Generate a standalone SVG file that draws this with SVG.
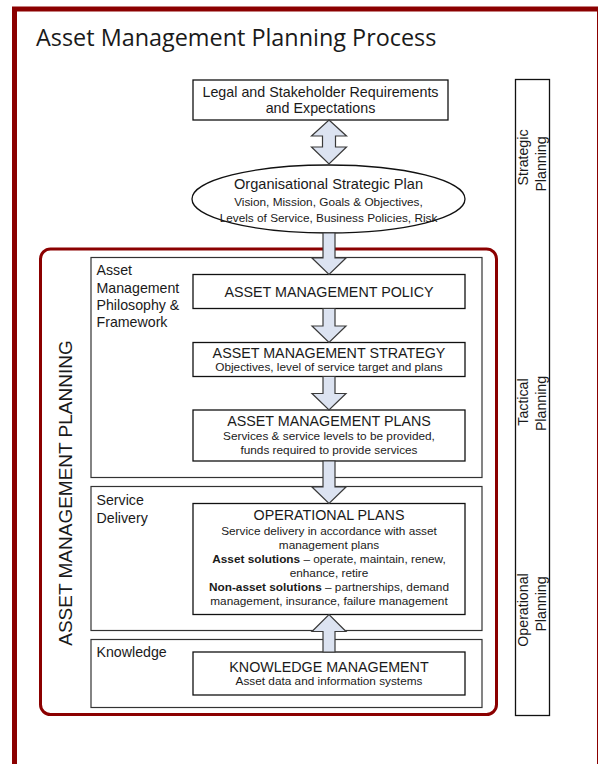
<svg xmlns="http://www.w3.org/2000/svg" width="598" height="764" viewBox="0 0 598 764">
<style>
.t{font-family:"Liberation Sans",Arial,sans-serif;fill:#1a1a1a}
.big{font-size:14.3px}
.sm{font-size:11.8px}
.lbl{font-size:14.2px}
.box{fill:#fff;stroke:#111;stroke-width:1.3}
.sec{fill:#fff;stroke:#333;stroke-width:1.2}
.arr{fill:#dce3f1;stroke:#3a3a3a;stroke-width:1.2;stroke-linejoin:miter}
.mid{text-anchor:middle}
</style>
<rect x="0" y="0" width="598" height="764" fill="#fff"/>
<rect x="14.5" y="9" width="585" height="800" fill="none" stroke="#8b0000" stroke-width="5"/>
<text x="36" y="46" font-family="'Open Sans',sans-serif" font-size="23.4" fill="#1a1a1a">Asset Management Planning Process</text>

<g id="amp-frame">
<rect x="40.5" y="249" width="456" height="465.5" rx="10" fill="none" stroke="#8b0000" stroke-width="3"/>
<text class="t" font-size="19" text-anchor="middle" transform="translate(72,493) rotate(-90)">ASSET MANAGEMENT PLANNING</text>
</g>

<g id="section-philosophy">
<rect class="sec" x="91" y="257.5" width="391" height="220"/>
<text class="t lbl" x="96.5" y="275">Asset</text>
<text class="t lbl" x="96.5" y="292.5">Management</text>
<text class="t lbl" x="96.5" y="310">Philosophy &amp;</text>
<text class="t lbl" x="96.5" y="327">Framework</text>
</g>
<g id="section-service">
<rect class="sec" x="91" y="486.5" width="391" height="144"/>
<text class="t lbl" x="96.5" y="505">Service</text>
<text class="t lbl" x="96.5" y="522.5">Delivery</text>
</g>
<g id="section-knowledge">
<rect class="sec" x="91" y="639.5" width="391" height="68"/>
<text class="t lbl" x="96.5" y="657">Knowledge</text>
</g>

<g id="planning-levels">
<rect x="515.5" y="79.5" width="34" height="636" fill="#fff" stroke="#111" stroke-width="1.3"/>
<text class="t lbl mid" transform="translate(528,157.5) rotate(-90)">Strategic</text>
<text class="t lbl mid" transform="translate(546,164) rotate(-90)">Planning</text>
<text class="t lbl mid" transform="translate(528,402) rotate(-90)">Tactical</text>
<text class="t lbl mid" transform="translate(546,403.5) rotate(-90)">Planning</text>
<text class="t lbl mid" transform="translate(528,610) rotate(-90)">Operational</text>
<text class="t lbl mid" transform="translate(546,604) rotate(-90)">Planning</text>
</g>

<g id="legal">
<rect class="box" x="193" y="80" width="255" height="40"/>
<text class="t big mid" x="320.5" y="97">Legal and Stakeholder Requirements</text>
<text class="t big mid" x="320.5" y="113">and Expectations</text>
</g>

<g id="strategic-plan">
<ellipse cx="328.5" cy="199" rx="136.5" ry="34" fill="#fff" stroke="#111" stroke-width="1.3"/>
<text class="t mid" font-size="14.6" x="328.5" y="189">Organisational Strategic Plan</text>
<text class="t sm mid" x="328.5" y="206">Vision, Mission, Goals &amp; Objectives,</text>
<text class="t sm mid" x="328.5" y="222">Levels of Service, Business Policies, Risk</text>
</g>

<g id="policy">
<rect class="box" x="193" y="274.5" width="272" height="34"/>
<text class="t big mid" x="329" y="296.5">ASSET MANAGEMENT POLICY</text>
</g>

<g id="strategy">
<rect class="box" x="193" y="342.5" width="272" height="34"/>
<text class="t big mid" x="329" y="357.5">ASSET MANAGEMENT STRATEGY</text>
<text class="t sm mid" x="329" y="371">Objectives, level of service target and plans</text>
</g>

<g id="plans">
<rect class="box" x="193" y="410" width="272" height="51"/>
<text class="t big mid" x="329" y="426">ASSET MANAGEMENT PLANS</text>
<text class="t sm mid" x="329" y="440">Services &amp; service levels to be provided,</text>
<text class="t sm mid" x="329" y="453.5">funds required to provide services</text>
</g>

<g id="operational">
<rect class="box" x="193" y="503.5" width="272" height="111"/>
<text class="t big mid" x="329" y="519.5">OPERATIONAL PLANS</text>
<text class="t sm mid" x="329" y="535">Service delivery in accordance with asset</text>
<text class="t sm mid" x="329" y="549">management plans</text>
<text class="t sm mid" x="329" y="563.3"><tspan font-weight="bold">Asset solutions</tspan> – operate, maintain, renew,</text>
<text class="t sm mid" x="329" y="577">enhance, retire</text>
<text class="t sm mid" x="329" y="591"><tspan font-weight="bold">Non-asset solutions</tspan> – partnerships, demand</text>
<text class="t sm mid" x="329" y="605">management, insurance, failure management</text>
</g>

<g id="knowledge">
<rect class="box" x="193" y="652" width="272" height="43"/>
<text class="t big mid" x="329" y="671.5">KNOWLEDGE MANAGEMENT</text>
<text class="t sm mid" x="329" y="684.5">Asset data and information systems</text>
</g>

<g id="connectors">
<path class="arr" d="M329,120 L346.5,136 L335.5,136 L335.5,147 L346.5,147 L329,164 L311.5,147 L322.5,147 L322.5,136 L311.5,136 Z"/>
<path class="arr" d="M323,233 L335,233 L335,258 L346,258 L329,274.5 L312,258 L323,258 Z"/>
<path class="arr" d="M323,308.5 L335,308.5 L335,326 L346,326 L329,342.5 L312,326 L323,326 Z"/>
<path class="arr" d="M323,376.5 L335,376.5 L335,393.5 L346,393.5 L329,410 L312,393.5 L323,393.5 Z"/>
<path class="arr" d="M323,461 L335,461 L335,487 L346,487 L329,503.5 L312,487 L323,487 Z"/>
<path class="arr" d="M323,652 L335,652 L335,631.5 L346,631.5 L329,614.5 L312,631.5 L323,631.5 Z"/>
</g>
</svg>
